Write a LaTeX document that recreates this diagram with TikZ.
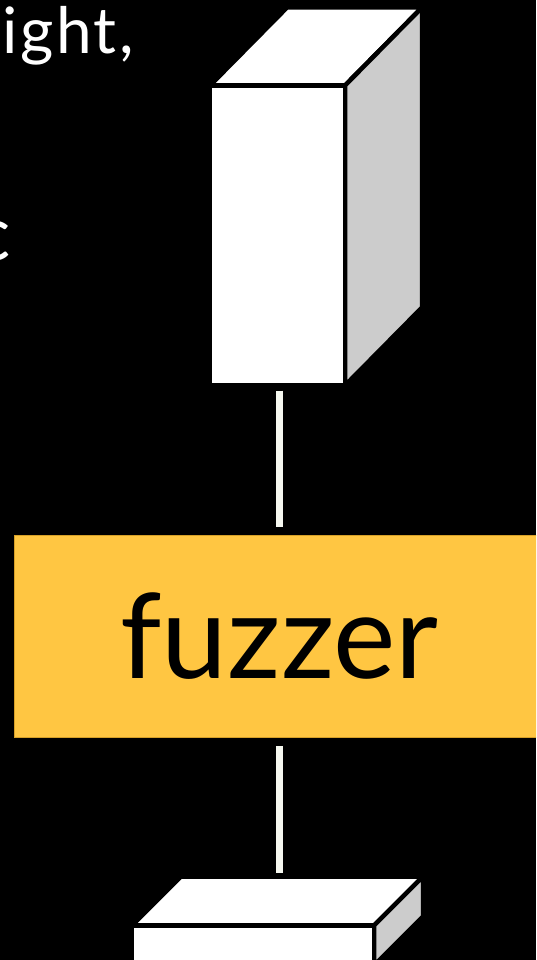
\documentclass[tikz,border=0pt]{standalone}
\usepackage{fontspec}
\setmainfont{Lato}
\definecolor{fuzzyellow}{RGB}{255,198,66}
\definecolor{fuzzedge}{RGB}{214,160,40}
\definecolor{sidegray}{RGB}{204,204,204}
\definecolor{wireclr}{RGB}{246,248,240}
\begin{document}
\begin{tikzpicture}[x=1pt,y=-1pt,
  face/.style={fill=white,draw=black,line width=4.5pt,line join=miter},
  sideface/.style={fill=sidegray,draw=black,line width=4.5pt,line join=miter},
  frontbox/.style={rectangle,fill=white,draw=black,line width=4.5pt,inner sep=0pt,outer sep=0pt},
  fuzzbox/.style={rectangle,fill=fuzzyellow,draw=fuzzedge,line width=0.8pt,inner sep=0pt,outer sep=0pt,
     font=\fontsize{118}{120}\selectfont},
  wire/.style={draw=wireclr,line width=7.5pt},
  slidetext/.style={text=white,inner sep=0pt,outer sep=0pt}]
\useasboundingbox (0,0) rectangle (536,960);
\fill[black] (0,0) rectangle (536,960);
\clip (0,0) rectangle (536,960);

% slide text (cut off at the left edge)
\node[slidetext,anchor=base east,font=\fontsize{64}{66}\selectfont\addfontfeature{LetterSpace=4}] (txtone) at (134,54) {ight,};
\node[slidetext,anchor=base east,font=\fontsize{76}{80}\selectfont] (txttwo) at (11,260) {c};

% top box (server)
\node[frontbox,minimum width=135pt,minimum height=300pt] (server) at (277.5,235.5) {};
\draw[face] (server.north west) -- (server.north east) -- ++(77,-78) -- ++(-135,0) -- cycle;
\draw[sideface] (server.north east) -- ++(77,-78) -- ++(0,300) -- (server.south east) -- cycle;
\node[frontbox,minimum width=135pt,minimum height=300pt] at (server) {};

% fuzzer
\node[fuzzbox,minimum width=531pt,minimum height=202pt] (fuzzer) at (279.5,636) {fuzzer};

% bottom box (router)
\node[frontbox,minimum width=242pt,minimum height=40pt,anchor=north west] (router) at (132,925.5) {};
\draw[face] (router.north west) -- (router.north east) -- ++(49,-49) -- coordinate[pos=0.48] (routertop) ++(-242,0) -- cycle;
\draw[sideface] (router.north east) -- ++(49,-49) -- ++(0,40) -- ++(-49,49) -- cycle;
\node[frontbox,minimum width=242pt,minimum height=40pt,anchor=north west] at (132,925.5) {};

% connectors
\draw[wire,shorten <=5pt,shorten >=8pt] (server.south -| fuzzer.north) -- (fuzzer.north);
\draw[wire,shorten <=9pt,shorten >=4pt] (fuzzer.south) -- (fuzzer.south |- routertop);
\end{tikzpicture}
\end{document}
